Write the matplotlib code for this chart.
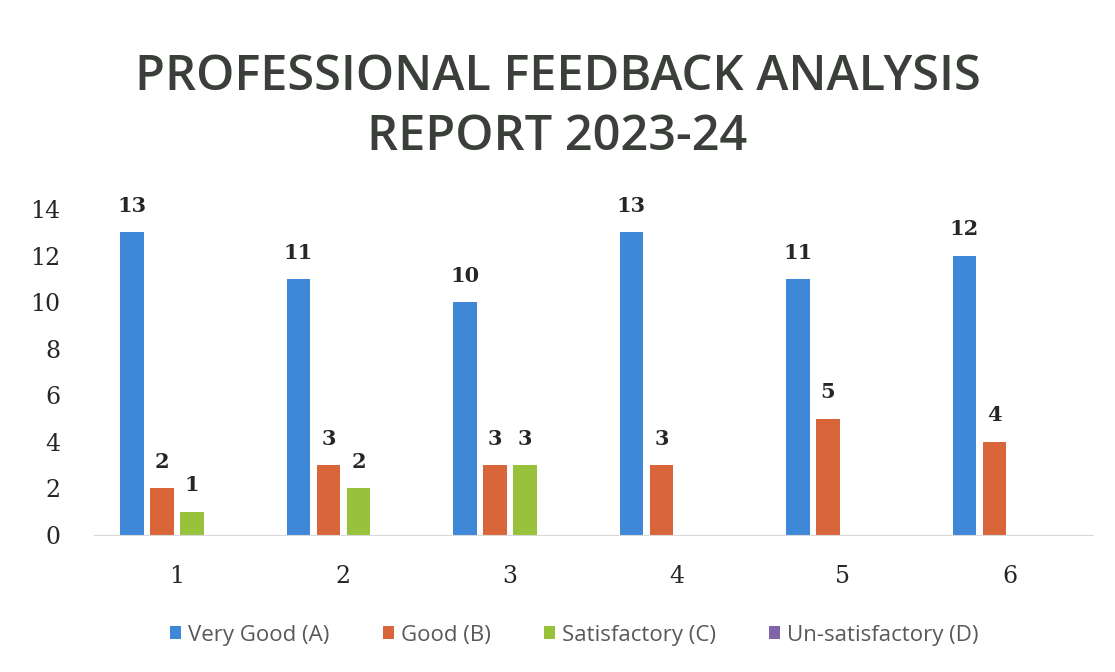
import numpy as np
import matplotlib.pyplot as plt

# data
categories = ['1', '2', '3', '4', '5', '6']
series = ['Very Good (A)', 'Good (B)', 'Satisfactory (C)', 'Un-satisfactory (D)']
very_good = [13, 11, 10, 13, 11, 12]
good = [2, 3, 3, 3, 5, 4]
satisfactory = [1, 2, 3, 0, 0, 0]
unsatisfactory = [0, 0, 0, 0, 0, 0]
colors = ['#3f88d8', '#d8663a', '#98c23c', '#7f65a8']

values = [very_good, good, satisfactory, unsatisfactory]

fig = plt.figure(figsize=(11.15, 6.72), dpi=100)
ax = fig.add_axes([0.084, 0.204, 0.896, 0.485])

x = np.arange(len(categories))
step = 0.18
width = 0.14
for i, (name, vals, c) in enumerate(zip(series, values, colors)):
    pos = x + (i - 1.5) * step
    bars = ax.bar(pos, vals, width, color=c, label=name)
    for b, v in zip(bars, vals):
        if v > 0:
            ax.text(b.get_x() + b.get_width() / 2, v + 0.7, str(v),
                    ha='center', va='bottom', family='DejaVu Serif',
                    fontsize=15, color='#262626', fontweight='bold')

ax.set_xlim(-0.5, 5.5)
ax.set_ylim(0, 14)
ax.set_yticks(range(0, 15, 2))
ax.set_xticks(x)
ax.set_xticklabels(categories)
for lab in ax.get_xticklabels() + ax.get_yticklabels():
    lab.set_family('DejaVu Serif')
    lab.set_fontsize(17)
    lab.set_color('#262626')
ax.tick_params(length=0)
ax.tick_params(axis='x', pad=22)
ax.tick_params(axis='y', pad=24)
for s in ['top', 'right', 'left']:
    ax.spines[s].set_visible(False)
ax.spines['bottom'].set_color('#d9d9d9')

fig.text(0.5, 0.885, 'PROFESSIONAL FEEDBACK ANALYSIS', ha='center', va='center',
         family='Open Sans', fontsize=35, fontweight='semibold', color='#3a3f3a')
fig.text(0.5, 0.795, 'REPORT 2023-24', ha='center', va='center',
         family='Open Sans', fontsize=35, fontweight='semibold', color='#3a3f3a')

fig.legend(loc='center', bbox_to_anchor=(0.515, 0.055), ncol=4, frameon=False,
           prop={'family': 'Open Sans', 'size': 16}, handlelength=0.5,
           handleheight=0.5, columnspacing=2.4, handletextpad=0.3,
           labelcolor='#595959')

fig.savefig('out.png', dpi=100, facecolor='white')
